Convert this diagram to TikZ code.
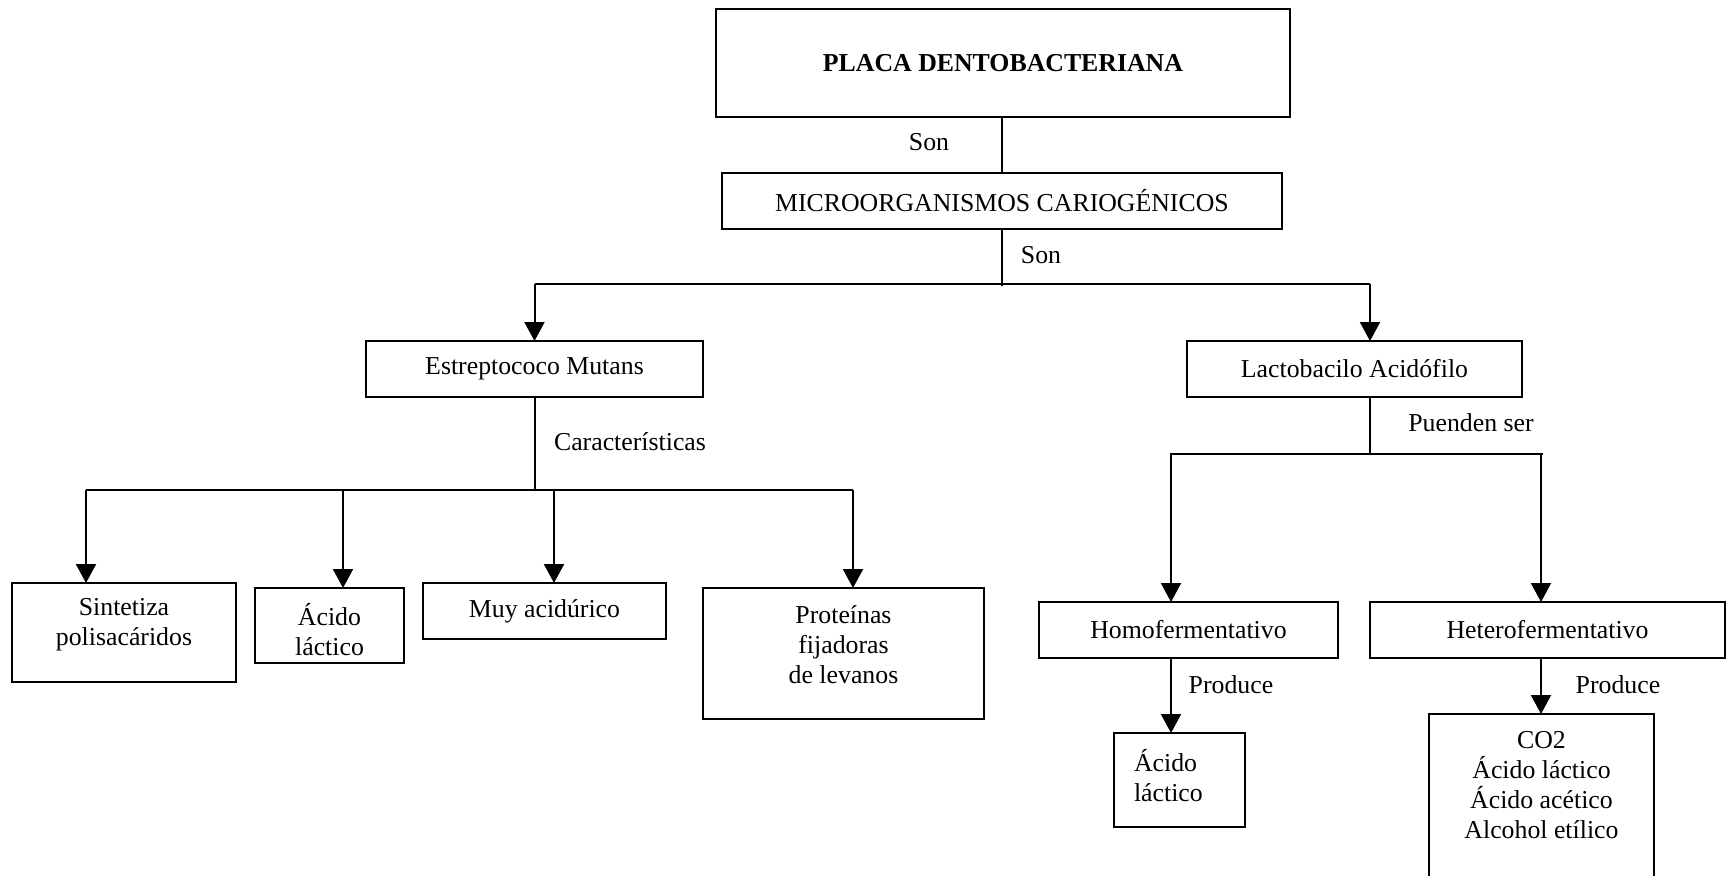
\documentclass[tikz,border=0pt]{standalone}
\usepackage{fontspec}
\setmainfont{Liberation Serif}
\usetikzlibrary{arrows.meta}
% fixed-size cell: width, height, extra space above, extra space below, content
\newcommand{\cellbox}[5]{\begin{minipage}[c][#2][c]{#1}\vspace*{#3}#5\par\vspace*{#4}\end{minipage}}
\begin{document}
\begin{tikzpicture}[x=0.5pt,y=-0.5pt,
  font=\fontsize{12.9}{15}\selectfont,
  box/.style={draw, line width=1pt, inner sep=0pt, outer sep=0pt},
  link/.style={line width=1pt},
  arr/.style={line width=1pt, -{Triangle[width=10pt,length=9.5pt]}},
  tag/.style={inner sep=0pt}]
\useasboundingbox (0,0) rectangle (1726,875);

% boxes
\node[box] (placa)  at (1003,63)    {\cellbox{287pt}{54pt}{0pt}{0pt}{\centering\bfseries PLACA DENTOBACTERIANA}};
\node[box] (micro)  at (1002,201)   {\cellbox{280pt}{28pt}{0pt}{0pt}{\centering MICROORGANISMOS CARIOGÉNICOS}};
\node[box] (estrep) at (534.5,369)  {\cellbox{168.5pt}{28pt}{0pt}{0pt}{\centering Estreptococo Mutans}};
\node[box] (lacto)  at (1354.5,369) {\cellbox{167.5pt}{28pt}{0pt}{0pt}{\centering Lactobacilo Acidófilo}};
\node[box] (sint)   at (124,632.5)  {\cellbox{112pt}{49.5pt}{0pt}{7.5pt}{\centering Sintetiza\\polisacáridos}};
\node[box] (acidoA) at (329.5,625.5){\cellbox{74.5pt}{37.5pt}{4pt}{0pt}{\centering Ácido\\láctico}};
\node[box] (muy)    at (544.5,611)  {\cellbox{121.5pt}{28pt}{0pt}{0pt}{\centering Muy acidúrico}};
\node[box] (prot)   at (843.5,653.5){\cellbox{140.5pt}{65.5pt}{0pt}{8.5pt}{\centering Proteínas\\fijadoras\\de levanos}};
\node[box] (homo)   at (1188.5,630) {\cellbox{149.5pt}{28pt}{0pt}{0pt}{\centering Homofermentativo}};
\node[box] (hetero) at (1547.5,630) {\cellbox{177.5pt}{28pt}{0pt}{0pt}{\centering Heterofermentativo}};
\node[box] (acidoB) at (1179.5,780) {\cellbox{65.5pt}{47pt}{0pt}{4.5pt}{\raggedright\leftskip=10pt Ácido\\láctico}};
\node[box] (gases)  at (1541.5,796) {\cellbox{112.5pt}{82pt}{0pt}{11pt}{\centering CO2\\Ácido láctico\\Ácido acético\\Alcohol etílico}};

% link labels
\node[tag] (son1)   at (929,142)  {Son};
\node[tag] (son2)   at (1041,255) {Son};
\node[tag] (carac)  at (630,442)  {Características};
\node[tag] (pueden) at (1471,423) {Puenden ser};
\node[tag] (prodA)  at (1231,685) {Produce};
\node[tag] (prodB)  at (1618,685) {Produce};

% top trunk
\draw[link] (micro.north |- placa.south) -- (micro.north);
\coordinate (busTop) at (1002,284);
\draw[link] (micro.south) -- ([yshift=-1pt]busTop);
\draw[link] (estrep.north |- busTop) -- ([xshift=7.75pt]lacto.north |- busTop);
\draw[arr] (estrep.north |- busTop) -- (estrep.north);
\draw[arr] ([xshift=7.75pt]lacto.north |- busTop) -- ([xshift=7.75pt]lacto.north);

% Estreptococo branches
\coordinate (tA) at (86,490);
\coordinate (tB) at (343,490);
\coordinate (tC) at (554,490);
\coordinate (tD) at (853,490);
\draw[link] (estrep.south) -- (estrep.south |- tA);
\draw[link] (tA) -- (tD);
\draw[arr] (tA) -- (tA |- sint.north);
\draw[arr] (tB) -- (tB |- acidoA.north);
\draw[arr] (tC) -- (tC |- muy.north);
\draw[arr] (tD) -- (tD |- prot.north);

% Lactobacilo branches
\coordinate (lA) at (1171,454);
\coordinate (lB) at (1541,454);
\draw[link] ([xshift=7.75pt]lacto.south) -- ([xshift=7.75pt]lacto.south |- lA);
\draw[link] ([xshift=-0.5pt]lA) -- ([xshift=1pt]lB);
\draw[arr] (lA) -- (lA |- homo.north);
\draw[arr] (lB) -- (lB |- hetero.north);
\draw[arr] (lA |- homo.south) -- (lA |- acidoB.north);
\draw[arr] (lB |- hetero.south) -- (lB |- gases.north);
\end{tikzpicture}
\end{document}
